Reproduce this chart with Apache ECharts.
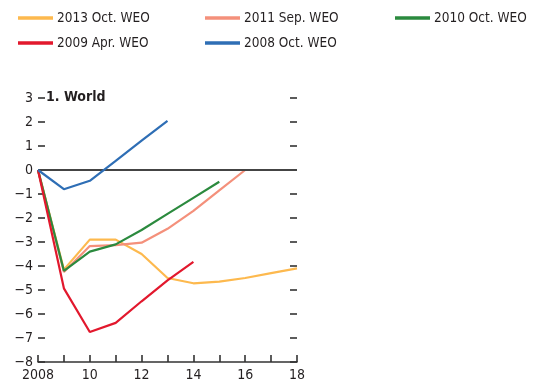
<!DOCTYPE html>
<html>
<head>
<meta charset="utf-8">
<script src="https://cdn.jsdelivr.net/npm/echarts@6/dist/echarts.min.js"></script>
<style>
  html, body { margin: 0; padding: 0; background: #fff; }
  #chart { width: 549px; height: 383px; }
</style>
</head>
<body>
<div id="chart"></div>
<script>
// Output gap relative to pre-crisis trend, by WEO vintage (percent)
const years = [2008, 2009, 2010, 2011, 2012, 2013, 2014, 2015, 2016, 2017, 2018];
const oct2013 = [0, -4.15, -2.9, -2.9, -3.5, -4.5, -4.72, -4.65, -4.5, -4.3, -4.1];
const sep2011 = [0, -4.25, -3.17, -3.13, -3.03, -2.45, -1.7, -0.85, 0];
const oct2010 = [0, -4.2, -3.4, -3.1, -2.5, -1.83, -1.16, -0.49];
const apr2009 = [0, -4.93, -6.75, -6.37, -5.47, -4.6, -3.83];
const oct2008 = [0, -0.8, -0.45, 0.38, 1.22, 2.05];

const seriesNames = ['2013 Oct. WEO', '2011 Sep. WEO', '2010 Oct. WEO', '2009 Apr. WEO', '2008 Oct. WEO'];
const seriesValues = [oct2013, sep2011, oct2010, apr2009, oct2008];
const seriesColors = ['#FDB94E', '#F4907B', '#2B8A3E', '#E2182D', '#2E6EB5'];

const FONT = '"DejaVu Sans Condensed", "Liberation Sans Narrow", "Liberation Sans", sans-serif';
const TXT = '#231F20';

const pairs = vals => vals.map((v, i) => [years[i], v]);

const legendPos = [
  { left: 18, top: 11 }, { left: 205, top: 11 }, { left: 395, top: 11 },
  { left: 18, top: 36 }, { left: 205, top: 36 }
];

const legends = seriesNames.map((name, i) => ({
  data: [name],
  left: legendPos[i].left,
  top: legendPos[i].top,
  icon: 'rect',
  itemWidth: 35,
  itemHeight: 3.5,
  itemGap: 0,
  padding: 0,
  selectedMode: false,
  textStyle: { fontFamily: FONT, fontSize: 13.5, color: TXT, padding: [0, 0, 0, -1] }
}));

const series = seriesNames.map((name, i) => ({
  name: name,
  type: 'line',
  data: pairs(seriesValues[i]),
  symbol: 'none',
  color: seriesColors[i],
  lineStyle: { width: 2.2, color: seriesColors[i] },
  z: 3 + i,
  animation: false
}));

// zero reference line
series.push({
  type: 'line',
  data: [],
  markLine: {
    silent: true,
    symbol: ['none', 'none'],
    label: { show: false },
    lineStyle: { color: '#444', width: 2, type: 'solid' },
    data: [{ yAxis: 0 }],
    animation: false
  },
  z: 2
});

const yAxisBase = {
  type: 'value',
  min: -8,
  max: 3,
  interval: 1,
  axisLine: { show: false },
  axisTick: { show: true, inside: true, length: 7, lineStyle: { color: '#333', width: 1.6 } },
  splitLine: { show: false }
};

const chart = echarts.init(document.getElementById('chart'), null, { renderer: 'canvas' });
chart.setOption({
  animation: false,
  backgroundColor: '#fff',
  title: {
    text: '1. World',
    left: 46,
    top: 90,
    padding: 0,
    textStyle: { fontFamily: FONT, fontSize: 14, fontWeight: 'bold', color: TXT }
  },
  legend: legends,
  grid: { left: 38, right: 252, top: 98, bottom: 21 },
  xAxis: {
    type: 'value',
    min: 2008,
    max: 2018,
    interval: 1,
    axisLine: { show: true, onZero: false, lineStyle: { color: '#333', width: 1.6 } },
    axisTick: { show: true, inside: true, length: 7, lineStyle: { color: '#333', width: 1.6 } },
    axisLabel: {
      fontFamily: FONT, fontSize: 14, color: TXT, margin: 6,
      formatter: v => (v % 2 !== 0 ? '' : (v === 2008 ? '2008' : String(v - 2000)))
    },
    splitLine: { show: false }
  },
  yAxis: [
    Object.assign({}, yAxisBase, {
      position: 'left',
      axisLabel: {
        fontFamily: FONT, fontSize: 14, color: TXT, margin: 5,
        formatter: v => (v < 0 ? '\u2212' + Math.abs(v) : String(v))
      }
    }),
    Object.assign({}, yAxisBase, {
      position: 'right',
      axisLabel: { show: false }
    })
  ],
  series: series
});
</script>
</body>
</html>
